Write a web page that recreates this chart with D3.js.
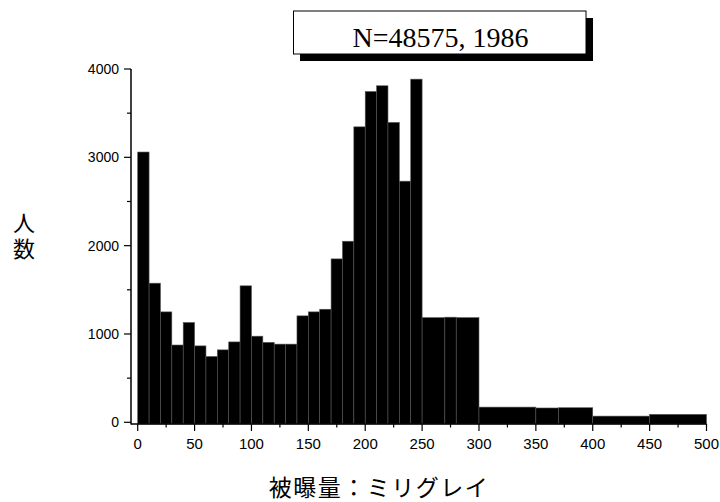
<!DOCTYPE html>
<html><head><meta charset="utf-8">
<script src="https://cdn.jsdelivr.net/npm/d3@7"></script>
<style>body{margin:0;background:#fff}svg{display:block}</style>
</head><body>
<svg id="c" width="720" height="502"></svg>
<script>
const binStart = [0,10,20,30,40,50,60,70,80,90,100,110,120,130,140,150,160,170,180,190,200,210,220,230,240,250,270,280,300,350,370,400,450];
const binEnd   = [10,20,30,40,50,60,70,80,90,100,110,120,130,140,150,160,170,180,190,200,210,220,230,240,250,270,280,300,350,370,400,450,500];
const counts   = [3060,1575,1250,875,1130,865,745,820,910,1545,975,905,885,885,1205,1250,1280,1850,2050,3345,3745,3810,3395,2730,3885,1185,1190,1185,172,162,165,70,90];
const xTicks = [0,50,100,150,200,250,300,350,400,450,500];
const yTicks = [0,1000,2000,3000,4000];
const legendText = "N=48575, 1986";
const xLabel = "被曝量：ミリグレイ";
const yLabel = "人数";

const svg = d3.select("#c");
const x = d3.scaleLinear().domain([0,500]).range([137.7,706.5]);
const y = d3.scaleLinear().domain([0,4000]).range([422.3,69]);
const axisX = 131, axisY = 424;

const bars = binStart.map((s,i)=>({s, e:binEnd[i], v:counts[i]}));
svg.append("g").selectAll("rect").data(bars).join("rect")
  .attr("x", d=>x(d.s)).attr("width", d=>x(d.e)-x(d.s))
  .attr("y", d=>y(d.v)).attr("height", d=>axisY - y(d.v))
  .attr("fill","#000").attr("stroke","#555").attr("stroke-width",0.6);

// Y axis
const ya = svg.append("g").attr("transform",`translate(${axisX},0)`);
ya.append("line").attr("x1",0).attr("x2",0).attr("y1",y(4000)).attr("y2",axisY+0.5).attr("stroke","#000").attr("stroke-width",1.5);
const yMinor = d3.range(500,4000,1000);
ya.selectAll(".ymaj").data(yTicks).join("line").attr("x1",-7).attr("x2",0).attr("y1",d=>y(d)).attr("y2",d=>y(d)).attr("stroke","#000").attr("stroke-width",1.2);
ya.selectAll(".ymin").data(yMinor).join("line").attr("x1",-4).attr("x2",0).attr("y1",d=>y(d)).attr("y2",d=>y(d)).attr("stroke","#000").attr("stroke-width",1.2);
ya.selectAll("text").data(yTicks).join("text").attr("x",-12).attr("y",d=>y(d)).attr("dy","0.35em")
  .attr("text-anchor","end").attr("font-family","Liberation Sans, Arial, sans-serif").attr("font-size",14).text(d=>d);

// X axis
const xa = svg.append("g").attr("transform",`translate(0,${axisY})`);
xa.append("line").attr("x1",axisX).attr("x2",x(500)).attr("y1",0).attr("y2",0).attr("stroke","#000").attr("stroke-width",1.5);
const xMinor = d3.range(25,500,50);
xa.selectAll(".xmaj").data(xTicks).join("line").attr("x1",d=>x(d)).attr("x2",d=>x(d)).attr("y1",0).attr("y2",7).attr("stroke","#000").attr("stroke-width",1.2);
xa.selectAll(".xmin").data(xMinor).join("line").attr("x1",d=>x(d)).attr("x2",d=>x(d)).attr("y1",0).attr("y2",3.5).attr("stroke","#000").attr("stroke-width",1.2);
xa.selectAll("text").data(xTicks).join("text").attr("x",d=>x(d)).attr("y",24.5)
  .attr("text-anchor","middle").attr("font-family","Liberation Sans, Arial, sans-serif").attr("font-size",15).text(d=>d);

// Axis titles
svg.append("text").attr("x",379).attr("y",496).attr("text-anchor","middle")
  .attr("font-family","Noto Sans CJK JP, sans-serif").attr("font-size",23).attr("letter-spacing",1.5).text(xLabel);
svg.append("text").attr("x",24).attr("y",212).attr("writing-mode","tb").attr("glyph-orientation-vertical","0")
  .attr("letter-spacing",4)
  .attr("font-family","Noto Sans CJK JP, sans-serif").attr("font-size",22).text(yLabel);

// Legend box with shadow
svg.append("rect").attr("x",300).attr("y",18).attr("width",293).attr("height",43).attr("fill","#000");
svg.append("rect").attr("x",293.5).attr("y",11).attr("width",292.5).attr("height",43).attr("fill","#fff").attr("stroke","#000").attr("stroke-width",1);
svg.append("text").attr("x",440.5).attr("y",46.5).attr("text-anchor","middle")
  .attr("font-family","Liberation Serif, Times New Roman, serif").attr("font-size",28).text(legendText);
</script>
</body></html>
